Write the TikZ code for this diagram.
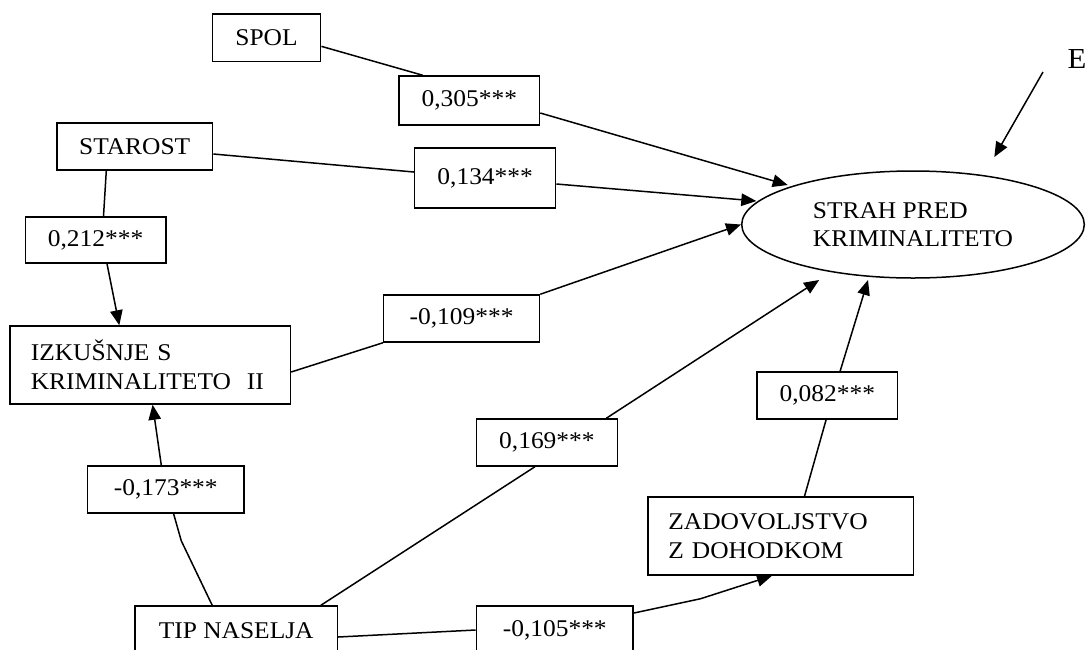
\documentclass[tikz,border=0pt]{standalone}
\usepackage{fontspec}
\setmainfont{Liberation Serif}[FakeStretch=1.06]
\usetikzlibrary{arrows.meta,calc,shapes.geometric}
\begin{document}
\begin{tikzpicture}[x=1pt,y=-1pt,
  every node/.style={font=\fontsize{24}{28.5}\selectfont},
  box/.style={draw, line width=1.5pt, inner sep=0pt, align=center},
  mbox/.style={draw, line width=1.5pt, inner ysep=0pt, align=left},
  conn/.style={line width=1.5pt, line join=round},
  arr/.style={conn, -{Triangle[length=15pt,width=12.5pt]}}]
\useasboundingbox (0,0) rectangle (1087,649);

% nodes
\node[box, minimum width=108.4pt, minimum height=47.7pt] (spol) at (266.5,37.85) {SPOL};
\node[box, minimum width=140.3pt, minimum height=49pt] (l305) at (469.35,100.5) {0,305***};
\node[box, minimum width=155.8pt, minimum height=47pt] (starost) at (134.7,146.5) {STAROST};
\node[box, minimum width=141.1pt, minimum height=60pt] (l134) at (485.15,178) {0,134***};
\node[box, minimum width=140.6pt, minimum height=46pt] (l212) at (95.6,240) {0,212***};
\node[mbox, minimum width=280.6pt, minimum height=78pt, text width=238.6pt, inner xsep=21pt] (izk) at (150.1,365) {IZKUŠNJE S\\KRIMINALITETO\ \ II};
\node[box, minimum width=155.8pt, minimum height=47pt] (l109) at (461.6,318.5) {-0,109***};
\node[box, minimum width=141.2pt, minimum height=47pt] (l169) at (546.9,442.5) {0,169***};
\node[box, minimum width=156.1pt, minimum height=47pt] (l173) at (165.75,489.5) {-0,173***};
\node[box, minimum width=202.4pt, minimum height=49pt] (tip) at (236.2,630.5) {TIP NASELJA};
\node[box, minimum width=156.9pt, minimum height=49pt] (l105) at (554.75,630.5) {-0,105***};
\node[mbox, minimum width=265.1pt, minimum height=78pt, text width=224.7pt, inner xsep=20.2pt] (zad) at (780.75,536) {ZADOVOLJSTVO\\Z DOHODKOM};
\node[box, minimum width=140.6pt, minimum height=47pt] (l082) at (827.3,395.5) {0,082***};
\node[draw, ellipse, line width=1.5pt, minimum width=342.6pt, minimum height=107pt, inner sep=0pt, align=left] (strah) at (913,224.5) {STRAH PRED\\KRIMINALITETO};
\node[font=\fontsize{29}{29}\selectfont, anchor=base west, inner sep=0pt] (E) at (1067.5,68) {E};

% connectors
\draw[conn] ($(spol.east)+(0,8.5)$) -- ($(l305.north)+(-46.65,0)$);
\draw[arr] ($(l305.east)+(0,12.5)$) -- ($(strah.center)+(-125.3,-39.5)$);

\draw[conn] ($(starost.east)+(0,7.5)$) -- ($(l134.west)+(0,-6)$);
\draw[arr] ($(l134.east)+(0,6)$) -- ($(strah.center)+(-156.7,-23.5)$);

\draw[conn] ($(starost.south)+(-28.4,0)$) -- ($(l212.north)+(7.9,0)$);
\draw[arr] ($(l212.south)+(11.4,0)$) -- ($(izk.north)+(-30.8,0)$);

\draw[conn] ($(izk.east)+(0,7)$) -- (l109.south west);
\draw[arr] (l109.north east) -- (strah.west);

\draw[conn] ($(tip.north)+(-24,0)$) -- ($(l173.south)+(15.5,27)$) -- ($(l173.south)+(7.85,0)$);
\draw[arr] ($(l173.north)+(-4.45,0)$) -- ($(izk.south)+(2.5,0)$);

\draw[conn] ($(tip.north)+(84.7,0)$) -- ($(l169.south)+(-12,0)$);
\draw[arr] ($(l169.north)+(59.4,0)$) -- ($(strah.center)+(-93.9,55.5)$);

\draw[conn] ($(tip.east)+(0,6.5)$) -- ($(l105.west)+(0,-0.5)$);
\draw[arr] ($(l105.east)+(0,-17.5)$) -- ($(zad.south)+(-80.25,23)$) -- ($(zad.south)+(-8.75,0)$);

\draw[conn] ($(zad.north)+(23.75,0)$) -- ($(l082.south)+(-1.2,0)$);
\draw[arr] ($(l082.north)+(12.8,0)$) -- ($(strah.center)+(-45,55.5)$);

\draw[arr] ($(E.base west)+(-24.5,4)$) -- ($(strah.center)+(81.3,-67.5)$);
\end{tikzpicture}
\end{document}
